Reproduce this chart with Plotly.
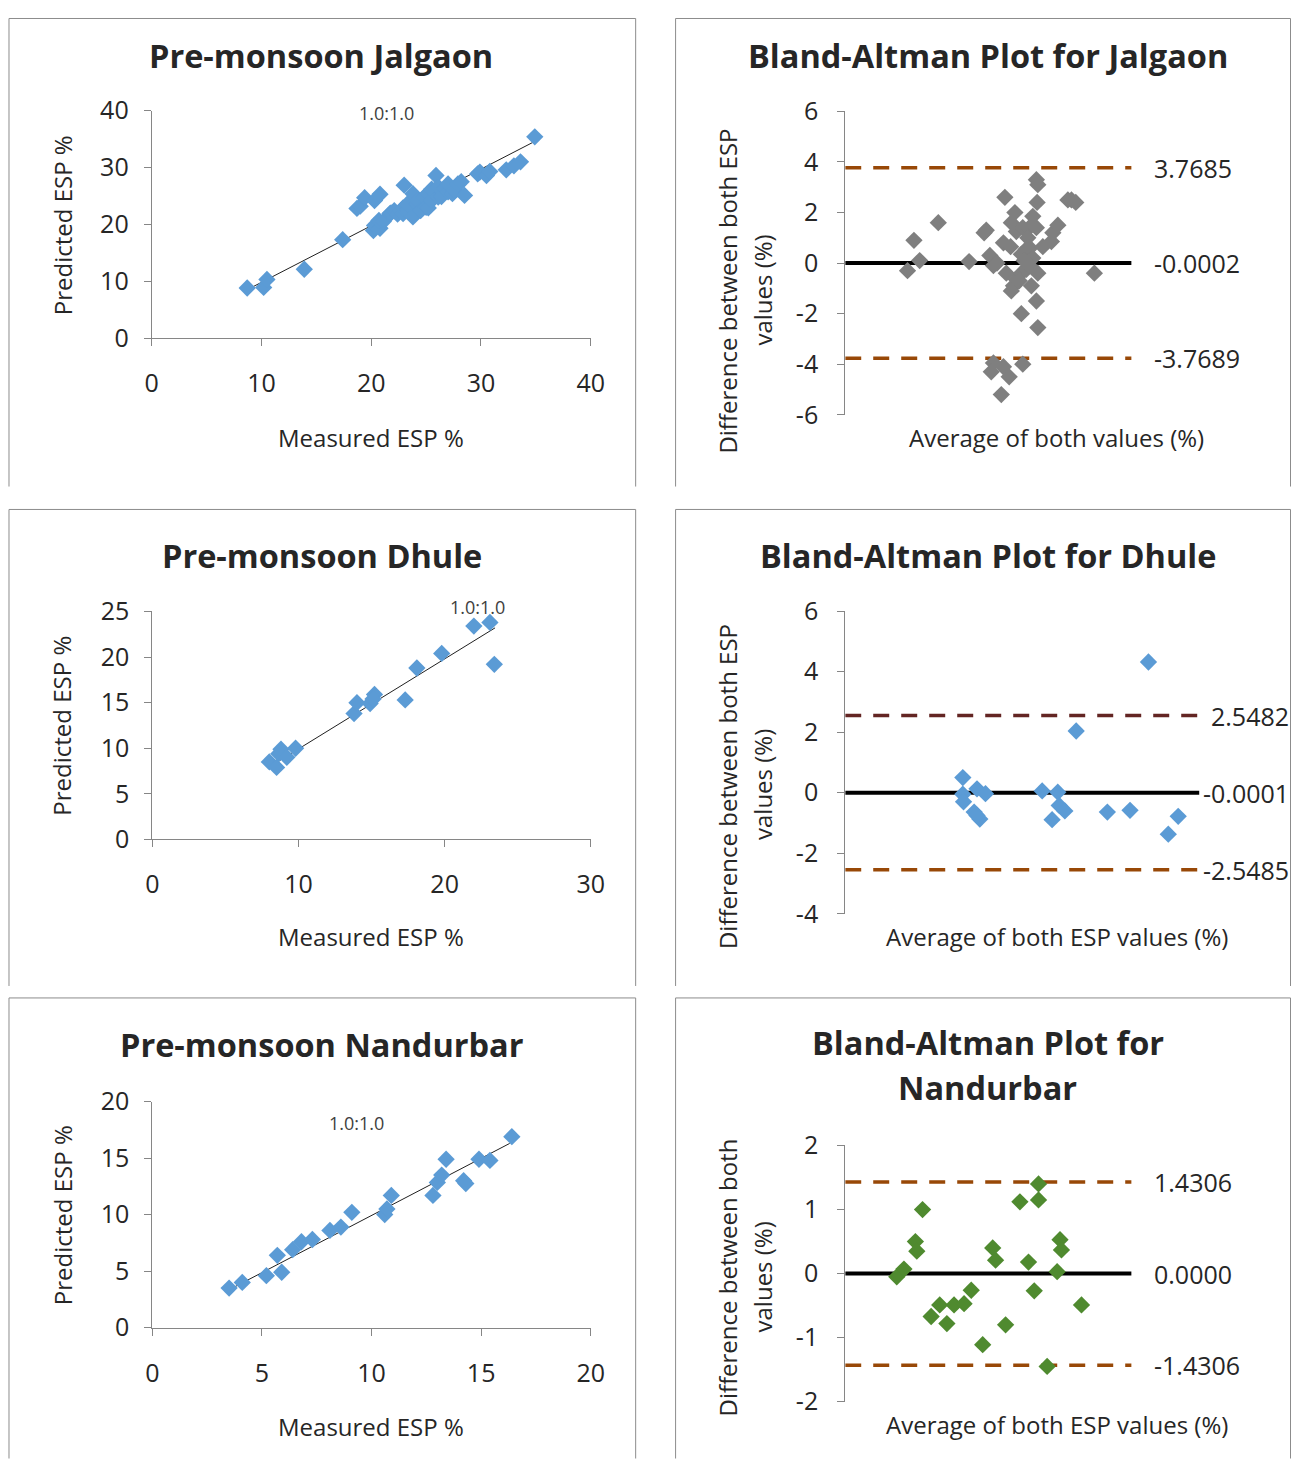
import plotly.graph_objects as go

W, H = 1305, 1475

# ---------------- data ----------------
jal_measured = [8.7, 10.2, 10.5, 13.9, 17.4, 18.7, 19.0, 19.4, 20.3, 20.8, 20.2, 20.3, 20.8, 20.7, 21.1,
                21.7, 21.8, 22.1, 22.4, 22.7, 22.9, 22.9, 23.0, 23.3, 23.3, 23.8, 23.8, 24.2, 24.2, 24.5,
                24.8, 25.0, 25.2, 25.2, 25.5, 25.5, 25.9, 26.1, 26.1, 26.4, 26.7, 27.0, 27.0, 27.4, 27.6,
                27.9, 28.2, 28.5, 29.7, 29.9, 30.5, 30.8, 32.3, 33.0, 33.6, 34.9]
jal_predicted = [8.8, 8.9, 10.3, 12.1, 17.3, 22.8, 23.2, 24.7, 24.2, 25.3, 18.9, 19.8, 19.3, 20.7, 20.5,
                 21.9, 22.0, 22.4, 21.8, 22.4, 21.9, 22.9, 26.9, 22.6, 23.6, 25.4, 21.3, 23.6, 24.2, 22.4,
                 24.8, 23.0, 22.9, 25.4, 24.2, 26.2, 28.6, 24.8, 26.6, 24.9, 26.3, 25.7, 27.1, 25.4, 26.0,
                 27.1, 27.5, 25.1, 28.9, 29.2, 28.6, 29.3, 29.6, 30.3, 31.0, 35.4]
jal_trend_x = [8.7, 34.9]
jal_trend_y = [8.5, 34.6]

dhu_measured = [8.0, 8.5, 8.8, 8.65, 9.2, 9.8, 13.8, 14.0, 14.9, 15.2, 15.1, 17.3, 18.1, 19.8, 22.0, 23.1, 23.4]
dhu_predicted = [8.5, 7.9, 9.9, 9.4, 9.0, 10.0, 13.8, 15.0, 14.9, 15.9, 15.4, 15.3, 18.8, 20.4, 23.4, 23.8, 19.2]
dhu_trend_x = [8.15, 23.45]
dhu_trend_y = [8.1, 23.2]

nan_measured = [3.5, 4.1, 5.2, 5.7, 5.9, 6.4, 6.8, 7.3, 8.1, 8.6, 9.1, 10.6, 10.7, 10.9, 12.8, 13.0, 13.2,
                13.4, 14.2, 14.3, 14.9, 15.4, 16.4]
nan_predicted = [3.5, 4.0, 4.6, 6.4, 4.9, 6.9, 7.6, 7.8, 8.6, 8.9, 10.2, 10.0, 10.5, 11.7, 11.7, 12.85, 13.5,
                 14.9, 13.0, 12.75, 14.9, 14.8, 16.9]
nan_trend_x = [3.5, 16.3]
nan_trend_y = [3.35, 16.3]

ba_jal_avg = [8.7, 9.6, 10.4, 13.0, 17.3, 19.7, 19.4, 20.2, 20.7, 21.2, 22.3, 22.1, 22.5, 20.7, 20.4, 22.1,
              22.9, 21.8, 24.8, 24.6, 26.9, 26.7, 26.0, 26.7, 26.9, 26.8, 23.7, 23.2, 23.9, 24.8, 25.7,
              26.2, 26.7, 25.3, 24.6, 25.8, 26.2, 27.6, 28.8, 29.0, 29.7, 31.1, 31.6, 32.2, 34.8, 23.5,
              23.9, 24.6, 25.3, 25.7, 26.9, 23.2, 24.3, 25.0, 23.1, 25.5]
ba_jal_diff = [-0.3, 0.9, 0.1, 1.6, 0.06, 1.3, 1.2, 0.3, -0.1, 0.0, 2.6, 0.8, -0.4, -3.95, -4.3, -4.1,
               -4.5, -5.2, -4.0, -2.0, -2.55, -1.5, -0.9, 3.3, 3.1, 2.4, 2.0, 1.6, 1.25, 1.4, 1.4,
               1.85, 1.4, 0.55, 0.35, 0.6, 0.2, 0.65, 0.85, 1.2, 1.5, 2.5, 2.5, 2.4, -0.4, -0.9,
               -0.65, -0.4, -0.25, -0.1, -0.4, -1.1, -0.7, 0.1, 0.65, 1.0]
ba_jal_limits = [3.7685, -0.0002, -3.7689]
ba_jal_labels = ["3.7685", "-0.0002", "-3.7689"]

ba_dhu_avg = [8.3, 8.3, 8.35, 9.3, 9.9, 9.1, 9.5, 9.3, 13.9, 15.0, 14.6, 15.1, 15.5, 16.3, 18.5, 20.1,
              21.4, 22.8, 23.5]
ba_dhu_diff = [0.5, -0.05, -0.3, 0.13, -0.03, -0.64, -0.87, -0.75, 0.06, 0.02, -0.89, -0.42, -0.6, 2.04,
               -0.64, -0.58, 4.32, -1.37, -0.78]
ba_dhu_limits = [2.5482, -0.0001, -2.5485]
ba_dhu_labels = ["2.5482", "-0.0001", "-2.5485"]

ba_nan_avg = [3.6, 4.1, 5.4, 4.9, 5.0, 6.0, 6.6, 7.1, 7.6, 8.3, 8.8, 9.6, 10.3, 10.5, 11.2, 12.2, 12.8,
              13.2, 13.5, 13.5, 14.1, 14.8, 15.0, 15.1, 16.5]
ba_nan_diff = [-0.05, 0.07, 1.0, 0.5, 0.35, -0.67, -0.49, -0.78, -0.49, -0.47, -0.26, -1.11, 0.4, 0.21,
               -0.8, 1.12, 0.18, -0.27, 1.4, 1.15, -1.45, 0.03, 0.53, 0.37, -0.49]
ba_nan_limits = [1.4306, 0.0000, -1.4306]
ba_nan_labels = ["1.4306", "0.0000", "-1.4306"]

jal_ticks = [0, 10, 20, 30, 40]
dhu_x_ticks = [0, 10, 20, 30]
dhu_y_ticks = [0, 5, 10, 15, 20, 25]
nan_ticks = [0, 5, 10, 15, 20]
ba_jal_ticks = [-6, -4, -2, 0, 2, 4, 6]
ba_dhu_ticks = [-4, -2, 0, 2, 4, 6]
ba_nan_ticks = [-2, -1, 0, 1, 2]

# ---------------- style ----------------
FONT = "Open Sans"
TXT = "#262626"
AX = "#868686"
BLUE = "#5B9BD5"
GRAY = "#7F7F7F"
GREEN = "#4F8A2F"
BROWN = "#984807"
DARKRED = "#632523"
TICK_SIZE = 25
LABEL_SIZE = 24
VAL_SIZE = 25
TITLE_SIZE = 32.5

# the photographed page shows the figure slightly inset; map target picture pixels to figure pixels
SX, OX, SY, OY = 0.986, 5.0, 0.980, 17.0


def X(px):
    return min(max((px - OX) / SX, 0.5), W - 0.5)


def Y(py):
    return min(max((py - OY) / SY, 0.5), H - 0.5)


def xd(p0, p1):
    return [X(p0) / W, X(p1) / W]


def yd(top, bottom):
    return [1 - Y(bottom) / H, 1 - Y(top) / H]


fig = go.Figure()


def add_scatter(idx, xs, ys, tx, ty, color):
    s = "" if idx == 1 else str(idx)
    fig.add_trace(go.Scatter(x=tx, y=ty, mode="lines", line=dict(color="#202020", width=1),
                             xaxis="x" + s, yaxis="y" + s, showlegend=False, hoverinfo="skip"))
    fig.add_trace(go.Scatter(x=xs, y=ys, mode="markers",
                             marker=dict(symbol="diamond", size=13.3, color=color, line=dict(width=0)),
                             xaxis="x" + s, yaxis="y" + s, showlegend=False))


def add_ba(idx, xs, ys, limits, xmax, color, upper_color):
    s = str(idx)
    cols = [upper_color, "black", BROWN]
    for v, c in zip(limits, cols):
        if c == "black":
            ln = dict(color="black", width=4)
        else:
            ln = dict(color=c, width=3.5, dash="16px,12px")
        fig.add_trace(go.Scatter(x=[0, xmax], y=[v, v], mode="lines", line=ln,
                                 xaxis="x" + s, yaxis="y" + s, showlegend=False, hoverinfo="skip"))
    fig.add_trace(go.Scatter(x=xs, y=ys, mode="markers",
                             marker=dict(symbol="diamond", size=13.3, color=color, line=dict(width=0)),
                             xaxis="x" + s, yaxis="y" + s, showlegend=False))


add_scatter(1, jal_measured, jal_predicted, jal_trend_x, jal_trend_y, BLUE)
add_ba(2, ba_jal_avg, ba_jal_diff, ba_jal_limits, 40, GRAY, BROWN)
add_scatter(3, dhu_measured, dhu_predicted, dhu_trend_x, dhu_trend_y, BLUE)
add_ba(4, ba_dhu_avg, ba_dhu_diff, ba_dhu_limits, 25, BLUE, DARKRED)
add_scatter(5, nan_measured, nan_predicted, nan_trend_x, nan_trend_y, BLUE)
add_ba(6, ba_nan_avg, ba_nan_diff, ba_nan_limits, 20, GREEN, BROWN)

tickfont = dict(family=FONT, size=TICK_SIZE, color=TXT)


def labels(ticks):
    return [str(t) for t in ticks]


def sc_x(dom, rng, ticks, anchor):
    return dict(domain=dom, range=rng, tickvals=ticks, ticktext=labels(ticks), showline=True,
                linecolor=AX, linewidth=1, ticks="outside", ticklen=7, tickcolor=AX, showgrid=False,
                zeroline=False, tickfont=tickfont, ticklabelstandoff=16, anchor=anchor, fixedrange=True)


def sc_y(dom, rng, ticks, anchor, standoff=10):
    return dict(domain=dom, range=rng, tickvals=ticks, ticktext=labels(ticks), showline=True,
                linecolor=AX, linewidth=1, ticks="outside", ticklen=7, tickcolor=AX, showgrid=False,
                zeroline=False, tickfont=tickfont, ticklabelstandoff=standoff, anchor=anchor,
                fixedrange=True)


def hid_x(dom, rng, anchor):
    return dict(domain=dom, range=rng, visible=False, anchor=anchor, fixedrange=True)


layout = dict(
    width=W, height=H, margin=dict(l=0, r=0, t=0, b=0),
    paper_bgcolor="white", plot_bgcolor="rgba(0,0,0,0)", showlegend=False,
    xaxis=sc_x(xd(150, 590), [0, 40], jal_ticks, "y"),
    yaxis=sc_y(yd(110, 338), [0, 40], jal_ticks, "x"),
    xaxis2=hid_x(xd(845, 1132), [0, 40], "y2"),
    yaxis2=sc_y(yd(110.7, 415), [-6, 6], ba_jal_ticks, "x2", 14),
    xaxis3=sc_x(xd(150.7, 590), [0, 30], dhu_x_ticks, "y3"),
    yaxis3=sc_y(yd(612.3, 841), [0, 25], dhu_y_ticks, "x3"),
    xaxis4=hid_x(xd(845, 1200), [0, 25], "y4"),
    yaxis4=sc_y(yd(612, 915.6), [-4, 6], ba_dhu_ticks, "x4", 14),
    xaxis5=sc_x(xd(150.7, 590), [0, 20], nan_ticks, "y5"),
    yaxis5=sc_y(yd(1104, 1330.7), [0, 20], nan_ticks, "x5"),
    xaxis6=hid_x(xd(845, 1132), [0, 20], "y6"),
    yaxis6=sc_y(yd(1148, 1405), [-2, 2], ba_nan_ticks, "x6", 14),
)
fig.update_layout(**layout)

# frames (top, left, right edges)
shapes = []
for (x0, x1) in [(7, 635), (675, 1303)]:
    for (y0, y1) in [(7, 487), (510, 988), (1000, 1475)]:
        for seg in [((x0, y0), (x1, y0)), ((x0, y0), (x0, y1)), ((x1, y0), (x1, y1))]:
            (a, b), (c, d) = seg
            shapes.append(dict(type="line", xref="paper", yref="paper",
                               x0=X(a) / W, y0=1 - Y(b) / H, x1=X(c) / W, y1=1 - Y(d) / H,
                               line=dict(color="#8C8C8C", width=1)))
fig.update_layout(shapes=shapes)

ann = []


def text(px, py, s, size=LABEL_SIZE, bold=False, angle=0, xanchor="center", color=TXT):
    if bold:
        s = "<b>" + s + "</b>"
    ann.append(dict(x=X(px) / W, y=1 - Y(py) / H, xref="paper", yref="paper", text=s, showarrow=False,
                    font=dict(family=FONT, size=size, color=color), textangle=angle,
                    xanchor=xanchor, yanchor="middle"))


# titles
text(320, 55, "Pre-monsoon Jalgaon", TITLE_SIZE, True)
text(988, 55, "Bland-Altman Plot for Jalgaon", TITLE_SIZE, True)
text(321, 556, "Pre-monsoon Dhule", TITLE_SIZE, True)
text(988, 556, "Bland-Altman Plot for Dhule", TITLE_SIZE, True)
text(321, 1047, "Pre-monsoon Nandurbar", TITLE_SIZE, True)
text(988, 1045, "Bland-Altman Plot for", TITLE_SIZE, True)
text(988, 1090, "Nandurbar", TITLE_SIZE, True)

# scatter axis titles
for yc, xc in [(225, 438), (727, 938), (1218, 1430)]:
    text(60, yc, "Predicted ESP %", angle=-90)
    text(370, xc, "Measured ESP %")

# 1:1 labels
text(385, 112, "1.0:1.0", 18, color="#404040")
text(476, 608, "1.0:1.0", 18, color="#404040")
text(355, 1125, "1.0:1.0", 18, color="#404040")

# BA axis titles
text(727, 291, "Difference between both ESP", angle=-90)
text(762, 290, "values (%)", angle=-90)
text(1057, 438, "Average of both values (%)")
text(727, 788, "Difference between both ESP", angle=-90)
text(762, 786, "values (%)", angle=-90)
text(1057, 938, "Average of both ESP values (%)")
text(727, 1280, "Difference between both", angle=-90)
text(762, 1280, "values (%)", angle=-90)
text(1057, 1428, "Average of both ESP values (%)")

# BA limit labels
for lab, v in zip(ba_jal_labels, ba_jal_limits):
    ann.append(dict(x=X(1152) / W, y=v, xref="paper", yref="y2", text=lab, showarrow=False,
                    font=dict(family=FONT, size=VAL_SIZE, color=TXT), xanchor="left", yanchor="middle"))
for lab, v in zip(ba_dhu_labels, ba_dhu_limits):
    ann.append(dict(x=X(1294) / W, y=v, xref="paper", yref="y4", text=lab, showarrow=False,
                    font=dict(family=FONT, size=VAL_SIZE, color=TXT), xanchor="right", yanchor="middle"))
for lab, v in zip(ba_nan_labels, ba_nan_limits):
    ann.append(dict(x=X(1152) / W, y=v, xref="paper", yref="y6", text=lab, showarrow=False,
                    font=dict(family=FONT, size=VAL_SIZE, color=TXT), xanchor="left", yanchor="middle"))

fig.update_layout(annotations=ann)
fig.write_html("out.html", post_script="document.documentElement.style.margin='0';document.body.style.margin='0';")
